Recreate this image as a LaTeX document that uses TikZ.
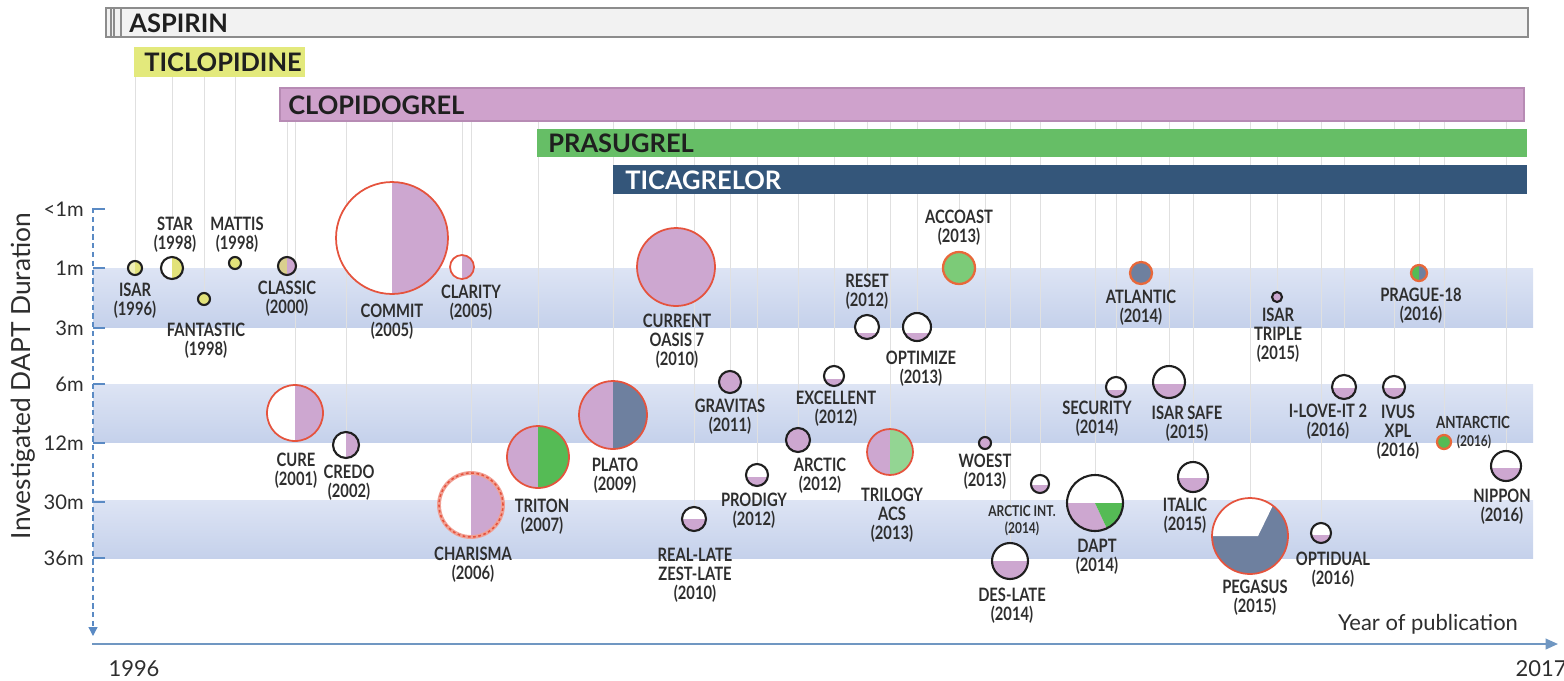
\documentclass[tikz,border=0pt]{standalone}
\usepackage{fontspec}
\setmainfont{Lato}
\newfontfamily\labf{Lato}[FakeStretch=0.8]
\usetikzlibrary{calc,arrows.meta}
\pgfdeclarelayer{bg}
\pgfsetlayers{bg,main}
\definecolor{pinkC}{HTML}{CDA7D0}
\definecolor{yelC}{HTML}{E2E27A}
\definecolor{yelL}{HTML}{F0F0B8}
\definecolor{tanC}{HTML}{D9CF8E}
\definecolor{grnC}{HTML}{55BB55}
\definecolor{grnL}{HTML}{93D593}
\definecolor{grnA}{HTML}{7CCB78}
\definecolor{bgC}{HTML}{6E809F}
\definecolor{redB}{HTML}{E5533D}
\definecolor{oraB}{HTML}{E8683A}
\definecolor{aspC}{HTML}{F2F2F2}
\definecolor{ticC}{HTML}{E3E97C}
\definecolor{clopC}{HTML}{CFA2CC}
\definecolor{clopD}{HTML}{B78BB4}
\definecolor{prasC}{HTML}{66BE66}
\definecolor{ticaC}{HTML}{34567A}
\definecolor{bandT}{HTML}{DDE4F4}
\definecolor{bandB}{HTML}{C5D1EB}
\definecolor{axC}{HTML}{5A8AC4}
\definecolor{hxC}{HTML}{7097C2}
\definecolor{gridC}{HTML}{E0E0E0}
\definecolor{labC}{HTML}{2E2E2E}
\begin{document}
\begin{tikzpicture}[x=0.02cm,y=-0.02cm,
  tr/.style={circle, inner sep=0pt, outer sep=0pt, minimum size=0.4mm*#1},
  bk/.style={tr=#1, draw=black!88, line width=1.2pt},
  rd/.style={tr=#1, draw=redB, line width=1pt},
  ob/.style={tr=#1, draw=oraB, line width=1.3pt},
  lr/.style 2 args={path picture={
     \fill[#1] (path picture bounding box.north west) rectangle (path picture bounding box.south);
     \fill[#2] (path picture bounding box.north) rectangle (path picture bounding box.south east);}},
  tb/.style={fill=white, path picture={
     \fill[pinkC] (path picture bounding box.south west) rectangle ($(path picture bounding box.east)!#1!(path picture bounding box.south east)$);}},
  lab/.style={font={\labf\bfseries\fontsize{10.5}{10.8}\selectfont}, text=labC, align=center, inner sep=0pt},
  barlab/.style={font={\bfseries\fontsize{14.5}{15}\selectfont}, text=black!88, inner sep=0pt, anchor=west},
  tick/.style={font={\fontsize{11.5}{12}\selectfont}, text=labC, inner sep=0pt, anchor=east},
  gridl/.style={draw=gridC, line width=0.5pt},
]
\useasboundingbox (0,0) rectangle (1564,680);

% ---------- drug bars ----------
\draw[fill=aspC, draw=black!45, line width=0.7pt] (106,8) rectangle (1528,37);
\draw[draw=black!45, line width=0.7pt] (111,8) -- (111,37) (114,8) -- (114,37) (121,8) -- (121,37);
\node[barlab] (aspL) at (129,23) {ASPIRIN};
\fill[ticC] (134,47) rectangle (305,77);
\node[barlab] (ticL) at (144,62) {TICLOPIDINE};
\draw[fill=clopC, draw=clopD, line width=0.6pt] (280,88) rectangle (1524,121);
\node[barlab] (clopL) at (288,105) {CLOPIDOGREL};
\fill[prasC] (537,129) rectangle (1527,157);
\node[barlab] (prasL) at (548,143) {PRASUGREL};
\fill[ticaC] (613,165) rectangle (1527,194);
\node[barlab, text=white] (ticaL) at (625,180) {TICAGRELOR};

\coordinate (t1) at (0,77);
\coordinate (t2) at (0,121);

% ---------- axes ----------
\coordinate (yt) at (93,208);
\coordinate (yb) at (93,636);
\draw[axC, line width=0.7pt, dash pattern=on 3pt off 2pt, -{Triangle[width=5pt,length=5pt]}] (yt) -- (yb);
\foreach \y/\t/\n in {209/{<1m}/a,268/1m/b,328/3m/c,384/6m/d,443/12m/e,502/30m/f,558/36m/g}{
  \draw[axC, line width=0.7pt] (93,\y) -- (105,\y);
  \node[tick] (tk\n) at (84,\y) {\t};
}
\coordinate (xl) at (92,644);
\coordinate (xr) at (1558,644);
\draw[hxC, line width=1.1pt, -{Triangle[width=6pt,length=7pt]}] (xl) -- (xr);
\node[font=\fontsize{12.5}{13}\selectfont, text=labC] (y1996) at (134,669) {1996};
\node[font=\fontsize{12.5}{13}\selectfont, text=labC] (y2017) at (1541,669) {2017};
\node[font=\fontsize{12.5}{13}\selectfont, text=labC] (yop) at (1428,624) {Year of publication};
\node[rotate=90, font=\fontsize{15}{15}\selectfont, text=labC] (ylab) at (23,376) {Investigated DAPT Duration};

% ---------- trials ----------
\node[bk=7, lr={yelL}{yelC}] (isar) at (135,268) {};
\node[bk=11, lr={white}{yelC}] (star) at (172,268) {};
\node[bk=6, fill=yelC] (fant) at (204,299) {};
\node[bk=6, fill=yelC] (matt) at (235,263) {};
\node[bk=9, lr={tanC}{pinkC}] (classic) at (287,266) {};
\node[rd=56, lr={white}{pinkC}] (commit) at (392,238) {};
\node[rd=12, lr={white}{pinkC}] (clarity) at (462,267) {};
\node[rd=28, lr={white}{pinkC}] (cure) at (295,413) {};
\node[bk=13, lr={white}{pinkC}] (credo) at (346,445) {};
\node[tr=32, lr={white}{pinkC}, draw=redB!55, line width=2.2pt, postaction={draw=redB, line width=0.9pt, dash pattern=on 1.5pt off 1.5pt}] (charisma) at (471,505) {};
\node[rd=31, lr={pinkC}{grnC}] (triton) at (538,457) {};
\node[rd=34, lr={pinkC}{bgC}] (plato) at (613,415) {};
\node[rd=39, fill=pinkC] (current) at (676,267) {};
\node[bk=12, tb=0] (reallate) at (694,519) {};
\node[bk=11, fill=pinkC] (gravitas) at (730,382) {};
\node[bk=11, tb=0.2] (prodigy) at (757,475) {};
\node[bk=12, fill=pinkC] (arctic) at (798,440) {};
\node[bk=10, tb=0.3] (excellent) at (834,376) {};
\node[bk=12, tb=0.5] (reset) at (867,327) {};
\node[bk=14, tb=0.45] (optimize) at (917,327) {};
\node[rd=23, lr={pinkC}{grnL}] (trilogy) at (890,452) {};
\node[ob=16, fill=grnA] (accoast) at (959,268) {};
\node[bk=6, fill=pinkC] (woest) at (985,443) {};
\node[bk=9, tb=0.15] (arcint) at (1040,484) {};
\node[bk=18, tb=0] (deslate) at (1010,561) {};
\node[bk=28, fill=white, path picture={
   \coordinate (pc) at (path picture bounding box.center);
   \fill[pinkC] (pc) -- ++(180:1cm) arc[start angle=180, end angle=295, radius=1cm] -- cycle;
   \fill[grnC] (pc) -- ++(295:1cm) arc[start angle=295, end angle=360, radius=1cm] -- cycle;}] (dapt) at (1095,503) {};
\node[ob=11, fill=bgC] (atlantic) at (1141,273) {};
\node[bk=10, tb=0.25] (security) at (1116,387) {};
\node[bk=16, tb=0.1] (isarsafe) at (1169,382) {};
\node[bk=15, tb=0.05] (italic) at (1193,477) {};
\node[rd=38, fill=bgC, path picture={
   \coordinate (pa) at ($(path picture bounding box.center)+(0.16cm,0)$);
   \fill[white] (pa) -- ++(64:2cm) -- ++(-3cm,0) -- ($(pa)+(-2cm,0)$) -- cycle;}] (pegasus) at (1250,536) {};
\node[bk=5, fill=pinkC] (isartriple) at (1277,297) {};
\node[bk=10, tb=0.2] (optidual) at (1321,533) {};
\node[bk=12, tb=0.1] (ilove) at (1344,387) {};
\node[bk=11, tb=0.1] (ivus) at (1394,387) {};
\node[ob=8, lr={grnC}{bgC}] (prague) at (1419,273) {};
\node[ob=7, fill=grnC] (antarctic) at (1444,442) {};
\node[bk=15, tb=0.1] (nippon) at (1506,466) {};

% ---------- labels ----------
\node[lab] (isarL) at (135,301) {ISAR\\(1996)};
\node[lab] (starL) at (175,235) {STAR\\(1998)};
\node[lab] (fantL) at (206,341) {FANTASTIC\\(1998)};
\node[lab] (mattL) at (237,235) {MATTIS\\(1998)};
\node[lab] (classL) at (287,299) {CLASSIC\\(2000)};
\node[lab] (commitL) at (392,322) {COMMIT\\(2005)};
\node[lab] (clarL) at (471,303) {CLARITY\\(2005)};
\node[lab] (cureL) at (296,471) {CURE\\(2001)};
\node[lab] (credoL) at (349,483) {CREDO\\(2002)};
\node[lab] (charL) at (473,565) {CHARISMA\\(2006)};
\node[lab] (tritL) at (542,517) {TRITON\\(2007)};
\node[lab] (platoL) at (615,476) {PLATO\\(2009)};
\node[lab] (currL) at (677,341) {CURRENT\\OASIS 7\\(2010)};
\node[lab] (realL) at (695,575) {REAL-LATE\\ZEST-LATE\\(2010)};
\node[lab] (gravL) at (730,417) {GRAVITAS\\(2011)};
\node[lab] (prodL) at (754,511) {PRODIGY\\(2012)};
\node[lab] (arcL) at (820,476) {ARCTIC\\(2012)};
\node[lab] (excL) at (836,409) {EXCELLENT\\(2012)};
\node[lab] (resetL) at (867,292) {RESET\\(2012)};
\node[lab] (optL) at (921,369) {OPTIMIZE\\(2013)};
\node[lab] (trilL) at (892,515) {TRILOGY\\ACS\\(2013)};
\node[lab] (accL) at (959,228) {ACCOAST\\(2013)};
\node[lab] (woestL) at (985,472) {WOEST\\(2013)};
\node[lab, font={\labf\bfseries\fontsize{8.5}{9.5}\selectfont}] (aintL) at (1022,521) {ARCTIC INT.\\(2014)};
\node[lab] (deslL) at (1012,606) {DES-LATE\\(2014)};
\node[lab] (daptL) at (1097,557) {DAPT\\(2014)};
\node[lab] (atlL) at (1141,308) {ATLANTIC\\(2014)};
\node[lab] (secL) at (1097,419) {SECURITY\\(2014)};
\node[lab] (isafeL) at (1187,424) {ISAR SAFE\\(2015)};
\node[lab] (italL) at (1185,516) {ITALIC\\(2015)};
\node[lab] (pegL) at (1255,598) {PEGASUS\\(2015)};
\node[lab] (itripL) at (1278,335) {ISAR\\TRIPLE\\(2015)};
\node[lab] (optdL) at (1333,570) {OPTIDUAL\\(2016)};
\node[lab] (iloveL) at (1328,422) {I-LOVE-IT 2\\(2016)};
\node[lab] (ivusL) at (1398,432) {IVUS\\XPL\\(2016)};
\node[lab] (pragL) at (1421,306) {PRAGUE-18\\(2016)};
\node[lab, font={\labf\bfseries\fontsize{9.5}{10}\selectfont}] (antL) at (1473,422) {ANTARCTIC};
\node[lab, font={\labf\bfseries\fontsize{8.5}{9}\selectfont}] (antY) at (1474,442) {(2016)};
\node[lab] (nipL) at (1502,507) {NIPPON\\(2016)};

% ---------- background: bands and guide lines ----------
\begin{pgfonlayer}{bg}
\shade[top color=bandT, bottom color=bandB] (93,268) rectangle (1533,327);
\shade[top color=bandT, bottom color=bandB] (93,384) rectangle (1533,442);
\shade[top color=bandT, bottom color=bandB] (93,500) rectangle (1533,558);
\foreach \n in {isar,fant}{\draw[gridl] (\n |- t1) -- (\n.north);}
\foreach \n/\l in {star/starL,matt/mattL}{\draw[gridl] (\n |- t1) -- (\n |- \l.north);}
\foreach \n/\l in {reset/resetL,accoast/accL}{\draw[gridl] (\n |- t2) -- (\n |- \l.north);}
\foreach \n in {classic,commit,clarity,cure,credo,charisma,triton,plato,current,reallate,gravitas,prodigy,arctic,excellent,optimize,trilogy,woest,arcint,deslate,dapt,atlantic,security,isarsafe,italic,pegasus,isartriple,optidual,ilove,ivus,prague,antarctic,nippon}{\draw[gridl] (\n |- t2) -- (\n.north);}
\end{pgfonlayer}
\end{tikzpicture}
\end{document}
